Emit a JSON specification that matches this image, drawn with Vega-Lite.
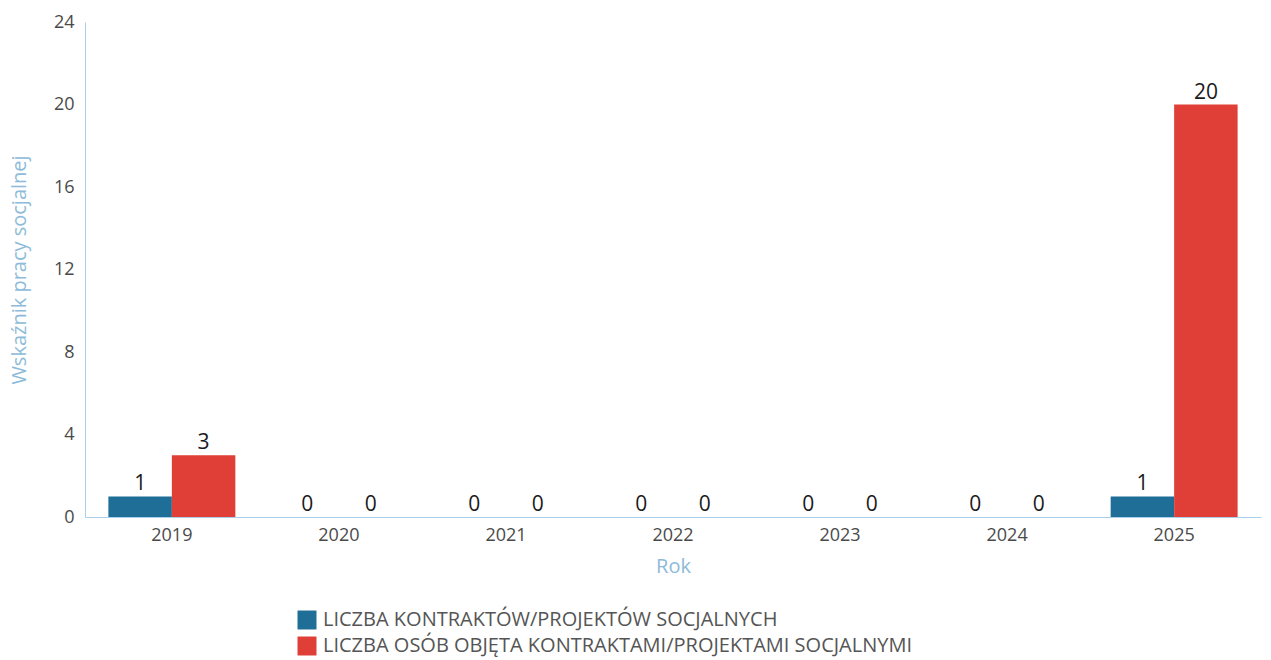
{
  "$schema": "https://vega.github.io/schema/vega-lite/v6.json",
  "width": 1176,
  "height": 495,
  "autosize": {"type": "none"},
  "padding": {"left": 85, "top": 22, "right": 10, "bottom": 143},
  "background": "white",
  "config": {"view": {"stroke": null}, "font": "Open Sans"},
  "data": {"values": [
    {"rok": "2019", "seria": "LICZBA KONTRAKTÓW/PROJEKTÓW SOCJALNYCH", "wartosc": 1},
    {"rok": "2019", "seria": "LICZBA OSÓB OBJĘTA KONTRAKTAMI/PROJEKTAMI SOCJALNYMI", "wartosc": 3},
    {"rok": "2020", "seria": "LICZBA KONTRAKTÓW/PROJEKTÓW SOCJALNYCH", "wartosc": 0},
    {"rok": "2020", "seria": "LICZBA OSÓB OBJĘTA KONTRAKTAMI/PROJEKTAMI SOCJALNYMI", "wartosc": 0},
    {"rok": "2021", "seria": "LICZBA KONTRAKTÓW/PROJEKTÓW SOCJALNYCH", "wartosc": 0},
    {"rok": "2021", "seria": "LICZBA OSÓB OBJĘTA KONTRAKTAMI/PROJEKTAMI SOCJALNYMI", "wartosc": 0},
    {"rok": "2022", "seria": "LICZBA KONTRAKTÓW/PROJEKTÓW SOCJALNYCH", "wartosc": 0},
    {"rok": "2022", "seria": "LICZBA OSÓB OBJĘTA KONTRAKTAMI/PROJEKTAMI SOCJALNYMI", "wartosc": 0},
    {"rok": "2023", "seria": "LICZBA KONTRAKTÓW/PROJEKTÓW SOCJALNYCH", "wartosc": 0},
    {"rok": "2023", "seria": "LICZBA OSÓB OBJĘTA KONTRAKTAMI/PROJEKTAMI SOCJALNYMI", "wartosc": 0},
    {"rok": "2024", "seria": "LICZBA KONTRAKTÓW/PROJEKTÓW SOCJALNYCH", "wartosc": 0},
    {"rok": "2024", "seria": "LICZBA OSÓB OBJĘTA KONTRAKTAMI/PROJEKTAMI SOCJALNYMI", "wartosc": 0},
    {"rok": "2025", "seria": "LICZBA KONTRAKTÓW/PROJEKTÓW SOCJALNYCH", "wartosc": 1},
    {"rok": "2025", "seria": "LICZBA OSÓB OBJĘTA KONTRAKTAMI/PROJEKTAMI SOCJALNYMI", "wartosc": 20}
  ]},
  "encoding": {
    "x": {
      "field": "rok", "type": "nominal",
      "scale": {"paddingInner": 0.24, "paddingOuter": 0.14},
      "axis": {
        "title": "Rok", "titleColor": "#8dbbd9", "titleFontSize": 20, "titleFontWeight": "normal", "titlePadding": 12,
        "labelAngle": 0, "labelColor": "#4a4a4a", "labelFontSize": 18, "labelPadding": 9,
        "ticks": false, "domainColor": "#a9d0ea", "domainWidth": 1
      }
    },
    "xOffset": {"field": "seria", "type": "nominal"},
    "y": {
      "field": "wartosc", "type": "quantitative",
      "scale": {"domain": [0, 24]},
      "axis": {
        "title": "Wskaźnik pracy socjalnej", "titleColor": "#8dbbd9", "titleFontSize": 20, "titleFontWeight": "normal", "titlePadding": 24,
        "values": [0, 4, 8, 12, 16, 20, 24], "grid": false, "ticks": false,
        "labelColor": "#4a4a4a", "labelFontSize": 18, "labelPadding": 11,
        "domainColor": "#a9d0ea", "domainWidth": 1
      }
    }
  },
  "layer": [
    {
      "mark": {"type": "bar"},
      "encoding": {
        "color": {
          "field": "seria", "type": "nominal",
          "scale": {"range": ["#1f6e97", "#df3f36"]},
          "legend": {
            "title": null, "orient": "none", "legendX": 212, "legendY": 588,
            "symbolType": "square", "symbolSize": 360, "symbolStrokeWidth": 0,
            "labelFontSize": 20, "labelColor": "#555555", "rowPadding": 6, "labelOffset": 6, "labelLimit": 900
          }
        }
      }
    },
    {
      "mark": {"type": "text", "dy": -12, "fontSize": 21, "color": "#1a1a1a"},
      "encoding": {"text": {"field": "wartosc", "type": "quantitative"}}
    }
  ]
}
